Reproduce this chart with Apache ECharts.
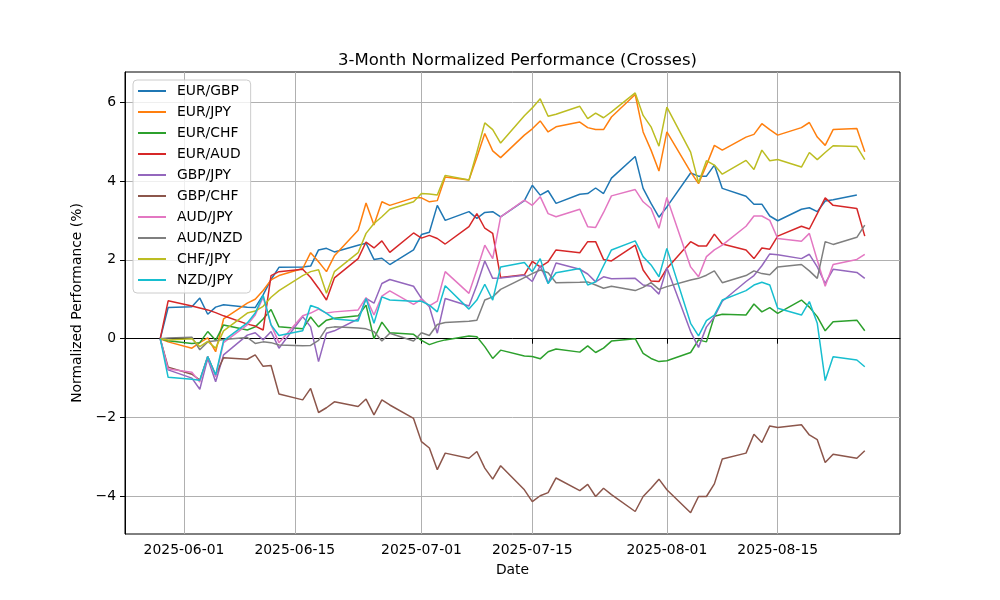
<!DOCTYPE html>
<html>
<head>
<meta charset="utf-8">
<script src="https://cdn.jsdelivr.net/npm/echarts@6/dist/echarts.min.js"></script>
<style>
  html, body { margin: 0; padding: 0; background: #fff; }
  #chart { width: 1000px; height: 600px; }
</style>
</head>
<body>
<div id="chart"></div>
<script>
const dates = [
  '2025-05-29','2025-05-30','2025-06-02','2025-06-03','2025-06-04','2025-06-05','2025-06-06',
  '2025-06-09','2025-06-10','2025-06-11','2025-06-12','2025-06-13','2025-06-16','2025-06-17',
  '2025-06-18','2025-06-19','2025-06-20','2025-06-23','2025-06-24','2025-06-25','2025-06-26',
  '2025-06-27','2025-06-30','2025-07-01','2025-07-02','2025-07-03','2025-07-04','2025-07-07',
  '2025-07-08','2025-07-09','2025-07-10','2025-07-11','2025-07-14','2025-07-15','2025-07-16',
  '2025-07-17','2025-07-18','2025-07-21','2025-07-22','2025-07-23','2025-07-24','2025-07-25',
  '2025-07-28','2025-07-29','2025-07-30','2025-07-31','2025-08-01','2025-08-04','2025-08-05',
  '2025-08-06','2025-08-07','2025-08-08','2025-08-11','2025-08-12','2025-08-13','2025-08-14',
  '2025-08-15','2025-08-18','2025-08-19','2025-08-20','2025-08-21','2025-08-22','2025-08-25',
  '2025-08-26'
];

const eurGbp = [0,0.79,0.81,1.03,0.62,0.8,0.86,0.8,0.79,1.11,1.5,1.81,1.82,1.84,2.25,2.29,2.2,2.37,2.42,2.01,2.04,1.88,2.25,2.64,2.7,3.38,3.0,3.22,3.05,3.2,3.22,3.09,3.5,3.89,3.64,3.75,3.43,3.66,3.68,3.82,3.68,4.07,4.62,3.81,3.43,3.08,3.34,4.2,4.12,4.12,4.4,3.81,3.61,3.41,3.41,3.11,2.99,3.28,3.32,3.22,3.49,3.52,3.64,null];
const eurJpy = [0,-0.08,-0.24,-0.1,0.02,-0.33,0.5,0.9,1.0,1.22,1.49,1.6,1.78,2.18,1.95,1.7,2.1,2.75,3.44,2.88,3.47,3.38,3.57,3.57,3.47,3.5,4.1,4.02,4.6,5.2,4.76,4.59,5.16,5.32,5.52,5.24,5.37,5.49,5.35,5.3,5.3,5.62,6.19,5.24,4.78,4.25,5.24,4.23,3.93,4.4,4.9,4.78,5.11,5.18,5.45,5.3,5.16,5.35,5.48,5.11,4.9,5.3,5.33,4.74];
const eurChf = [0,-0.05,-0.12,-0.1,0.18,-0.04,0.35,0.22,0.3,0.5,0.74,0.3,0.25,0.55,0.3,0.47,0.52,0.58,0.85,0.0,0.42,0.15,0.11,-0.04,-0.15,-0.08,-0.03,0.07,0.05,-0.2,-0.5,-0.29,-0.44,-0.45,-0.51,-0.33,-0.26,-0.34,-0.18,-0.35,-0.24,-0.06,0.0,-0.37,-0.5,-0.58,-0.56,-0.35,-0.03,-0.08,0.57,0.62,0.6,0.88,0.68,0.79,0.64,0.98,0.8,0.56,0.2,0.43,0.47,0.2];
const eurAud = [0,0.96,0.83,0.78,0.73,0.66,0.58,0.37,0.32,0.22,1.6,1.7,1.76,1.55,1.28,0.98,1.54,2.03,2.45,2.3,2.48,2.19,2.68,2.55,2.62,2.54,2.4,2.84,3.17,2.8,2.67,1.55,1.62,1.96,1.82,1.95,2.25,2.18,2.46,2.46,2.01,1.97,2.37,1.74,1.46,1.45,1.78,2.46,2.35,2.35,2.65,2.4,2.25,2.03,2.3,2.27,2.6,2.85,2.78,3.17,3.57,3.38,3.3,2.6];
const gbpJpy = [0,-0.79,-1.0,-1.28,-0.5,-1.09,-0.41,0.09,0.15,-0.03,0.18,-0.24,0.56,0.3,-0.58,0.14,0.2,0.5,1.02,0.9,1.4,1.5,1.33,1.02,0.81,0.14,1.02,0.83,1.36,1.97,1.53,1.54,1.61,1.45,1.85,1.4,1.92,1.76,1.64,1.44,1.57,1.52,1.53,1.36,1.33,1.13,1.8,0.18,-0.22,0.3,0.55,0.95,1.45,1.6,1.85,2.15,2.13,2.03,2.14,1.82,1.4,1.76,1.68,1.53];
const gbpChf = [0,-0.72,-0.9,-1.05,-0.45,-0.92,-0.48,-0.52,-0.41,-0.7,-0.68,-1.4,-1.55,-1.26,-1.87,-1.75,-1.6,-1.72,-1.53,-1.93,-1.55,-1.68,-2.02,-2.61,-2.77,-3.32,-2.9,-3.03,-2.86,-3.28,-3.56,-3.22,-3.83,-4.13,-3.98,-3.9,-3.53,-3.85,-3.69,-4.0,-3.79,-3.95,-4.38,-4.0,-3.79,-3.56,-3.83,-4.41,-4.0,-4.0,-3.68,-3.05,-2.9,-2.42,-2.63,-2.21,-2.25,-2.18,-2.44,-2.56,-3.14,-2.93,-3.03,-2.84];
const audJpy = [0,-0.77,-0.85,-1.1,-0.45,-0.97,-0.1,0.35,0.6,1.05,0.35,-0.1,0.58,0.65,0.75,0.65,0.68,0.73,1.04,0.6,1.08,1.21,0.87,1.0,0.83,0.95,1.7,1.15,1.75,2.37,2.03,3.09,3.51,3.38,3.6,3.17,3.09,3.28,2.84,2.82,3.2,3.62,3.78,3.47,3.3,2.8,3.58,1.82,1.57,2.08,2.25,2.37,2.85,3.11,3.11,3.0,2.54,2.47,2.67,1.99,1.33,1.88,2.01,2.14];
const audNzd = [0,0.02,0.04,-0.28,-0.08,-0.05,-0.02,0.03,-0.12,-0.08,-0.1,-0.16,-0.18,-0.17,-0.04,0.27,0.3,0.27,0.25,0.18,-0.06,0.14,-0.06,0.15,0.08,0.36,0.41,0.44,0.47,0.98,1.06,1.25,1.55,1.65,1.74,1.67,1.42,1.43,1.44,1.36,1.28,1.33,1.22,1.3,1.42,1.25,1.32,1.49,1.53,1.61,1.72,1.42,1.6,1.72,1.65,1.62,1.82,1.88,1.72,1.53,2.46,2.39,2.57,2.88];
const chfJpy = [0,-0.03,0.0,-0.2,-0.07,-0.24,0.2,0.65,0.7,0.82,1.05,1.22,1.6,1.7,1.75,1.15,1.7,2.18,2.67,2.92,3.09,3.28,3.47,3.68,3.67,3.64,4.14,4.02,4.73,5.47,5.3,4.96,5.65,5.85,6.08,5.64,5.69,5.89,5.58,5.72,5.6,5.75,6.23,5.66,5.37,4.88,5.87,4.73,3.95,4.51,4.4,4.17,4.52,4.29,4.78,4.51,4.54,4.35,4.72,4.54,4.72,4.89,4.87,4.54];
const nzdJpy = [0,-0.98,-1.03,-1.05,-0.45,-0.92,-0.05,0.4,0.65,1.1,0.35,0.08,0.2,0.84,0.77,0.64,0.5,0.45,1.02,0.39,1.06,0.98,0.95,0.95,0.85,0.68,1.34,0.75,0.98,1.38,0.98,1.82,1.93,1.7,2.03,1.4,1.67,1.78,1.36,1.44,1.85,2.25,2.48,2.08,1.87,1.57,2.29,0.39,0.07,0.46,0.6,0.98,1.22,1.36,1.43,1.36,0.77,0.6,0.94,0.39,-1.06,-0.46,-0.54,-0.71];

const seriesNames = ['EUR/GBP','EUR/JPY','EUR/CHF','EUR/AUD','GBP/JPY','GBP/CHF','AUD/JPY','AUD/NZD','CHF/JPY','NZD/JPY'];
const seriesValues = [eurGbp, eurJpy, eurChf, eurAud, gbpJpy, gbpChf, audJpy, audNzd, chfJpy, nzdJpy];
const colors = ['#1f77b4','#ff7f0e','#2ca02c','#d62728','#9467bd','#8c564b','#e377c2','#7f7f7f','#bcbd22','#17becf'];

const xTickLabels = ['2025-06-01','2025-06-15','2025-07-01','2025-07-15','2025-08-01','2025-08-15'];
const yTickValues = [-4, -2, 0, 2, 4, 6];

const ts = s => new Date(s + 'T00:00:00Z').getTime();
const first = ts(dates[0]);
const last = ts(dates[dates.length - 1]);
const xMin = first - 0.05 * (last - first);
const xMax = last + 0.05 * (last - first);
const xTicks = xTickLabels.map(ts);

const pad2 = n => (n < 10 ? '0' : '') + n;
const fmtDate = v => { const d = new Date(v); return d.getUTCFullYear() + '-' + pad2(d.getUTCMonth() + 1) + '-' + pad2(d.getUTCDate()); };

const FONT = 'DejaVu Sans';

const series = seriesNames.map((name, k) => ({
  name: name,
  type: 'line',
  symbol: 'none',
  showSymbol: false,
  connectNulls: true,
  animation: false,
  lineStyle: { width: 1.5, color: colors[k] },
  itemStyle: { color: colors[k] },
  data: dates.map((d, i) => [ts(d), seriesValues[k][i]]).filter(p => p[1] !== null)
}));

const chart = echarts.init(document.getElementById('chart'), null, { renderer: 'canvas' });
chart.setOption({
  animation: false,
  backgroundColor: '#ffffff',
  color: colors,
  title: {
    text: '3-Month Normalized Performance (Crosses)',
    left: 512.5,
    top: 47,
    textAlign: 'center',
    textStyle: { fontFamily: FONT, fontSize: 16.5, fontWeight: 'normal', color: '#000' }
  },
  legend: {
    orient: 'vertical',
    left: 133,
    top: 80,
    padding: [4, 8, 6, 5],
    icon: 'rect',
    itemWidth: 28,
    itemHeight: 2,
    itemGap: 7,
    backgroundColor: 'rgba(255,255,255,0.8)',
    borderColor: '#cccccc',
    borderWidth: 1,
    borderRadius: 4,
    textStyle: { fontFamily: FONT, fontSize: 13.9, color: '#000', padding: [0, 0, 0, 6], lineHeight: 14 },
    data: seriesNames
  },
  grid: {
    left: 125, right: 100, top: 72, bottom: 66,
    show: true, borderColor: '#000', borderWidth: 1, backgroundColor: 'transparent'
  },
  xAxis: {
    type: 'value',
    min: xMin,
    max: xMax,
    name: 'Date',
    nameLocation: 'middle',
    nameGap: 29,
    nameTextStyle: { fontFamily: FONT, fontSize: 13.9, color: '#000' },
    axisLine: { show: true, lineStyle: { color: '#000', width: 1 } },
    axisTick: { show: true, length: 5, lineStyle: { color: '#000', width: 1 }, customValues: xTicks },
    axisLabel: {
      customValues: xTicks,
      formatter: v => fmtDate(v),
      fontFamily: FONT, fontSize: 13.9, color: '#000', margin: 9,
      hideOverlap: false
    },
    splitLine: { show: true, lineStyle: { color: '#b0b0b0', width: 1 } }
  },
  yAxis: {
    type: 'value',
    min: -4.95,
    max: 6.76,
    name: 'Normalized Performance (%)',
    nameLocation: 'middle',
    nameGap: 31,
    nameTextStyle: { fontFamily: FONT, fontSize: 13.9, color: '#000' },
    axisLine: { show: true, lineStyle: { color: '#000', width: 1 } },
    axisTick: { show: true, length: 5, lineStyle: { color: '#000', width: 1 }, customValues: yTickValues },
    axisLabel: {
      customValues: yTickValues,
      formatter: v => String(Math.round(v)).replace('-', '\u2212'),
      fontFamily: FONT, fontSize: 13.9, color: '#000', margin: 9
    },
    splitLine: { show: true, lineStyle: { color: '#b0b0b0', width: 1 } }
  },
  series: series
});
</script>
</body>
</html>
